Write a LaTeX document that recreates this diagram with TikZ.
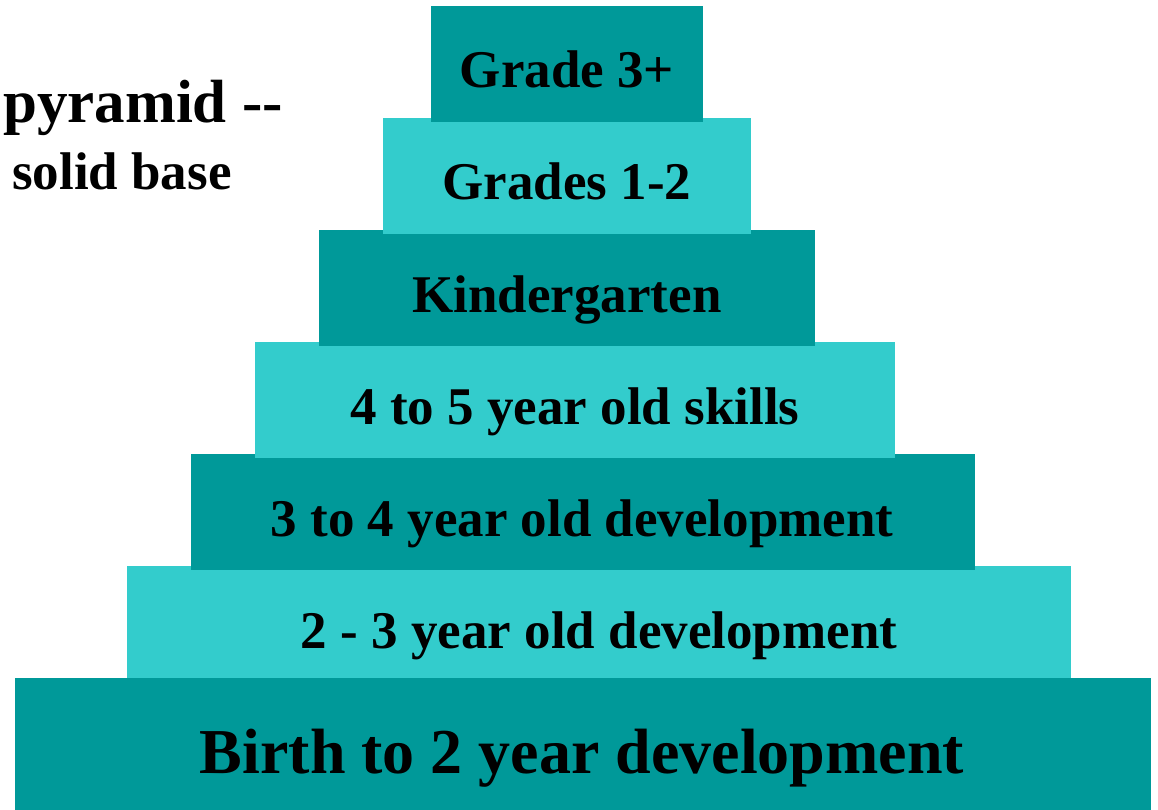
\documentclass[tikz,border=0pt]{standalone}
\usepackage{fontspec}
\setmainfont{Liberation Serif}
\begin{document}
\begin{tikzpicture}[x=1pt,y=-1pt,
  darklayer/.style={fill=tealdark},
  lightlayer/.style={fill=teallight},
  tier/.style={anchor=base,inner sep=0pt,font=\bfseries\fontsize{53}{58}\selectfont},
  side/.style={anchor=base west,inner sep=0pt}]
\definecolor{tealdark}{HTML}{009999}
\definecolor{teallight}{HTML}{33CCCC}
\useasboundingbox (0,0) rectangle (1158,810);
% layers, widest at the bottom; each narrower layer sits over the one beneath
\fill[darklayer]  (15,678)  rectangle (1151,810);
\fill[lightlayer] (127,566) rectangle (1071,678);
\fill[darklayer]  (191,454) rectangle (975,570);
\fill[lightlayer] (255,342) rectangle (895,458);
\fill[darklayer]  (319,230) rectangle (815,346);
\fill[lightlayer] (383,118) rectangle (751,234);
\fill[darklayer]  (431,6)   rectangle (703,122);
% labels
\node[tier] (g3)   at (567,88)  {Grade 3+};
\node[tier] (g12)  at (567,200) {Grades 1-2};
\node[tier] (kg)   at (567,312) {Kindergarten};
\node[tier] (y45)  at (575,424) {4 to 5 year old skills};
\node[tier] (y34)  at (582,536) {3 to 4 year old development};
\node[tier] (y23)  at (599,648) {2 - 3 year old development};
\node[tier,font=\bfseries\fontsize{64}{70}\selectfont] (y02) at (582,773) {Birth to 2 year development};
\node[side,font=\bfseries\fontsize{61}{66}\selectfont] (title) at (3,123) {pyramid -{}-};
\node[side,font=\bfseries\fontsize{53}{58}\selectfont] (sub) at (12,190) {solid base};
\end{tikzpicture}
\end{document}
